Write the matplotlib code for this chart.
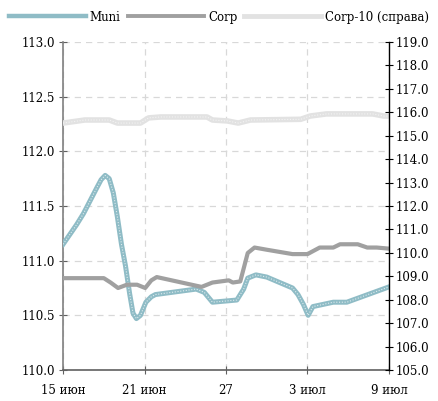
import matplotlib
matplotlib.use("Agg")
import matplotlib.pyplot as plt
from matplotlib.lines import Line2D
import numpy as np

plt.rcParams['font.family'] = ['DejaVu Serif']
plt.rcParams['font.size'] = 8

# x in days since 15 June
muni_x = [0, 0.5, 1, 1.5, 2, 2.5, 2.8, 3.1, 3.4, 3.7, 4.0, 4.3, 4.6, 4.9, 5.15, 5.4, 5.7, 6.1, 6.5, 6.8, 8, 9.8, 10.4, 11, 12.8, 13.3, 13.6, 14.2, 15, 16.9, 17.3, 17.7, 18.05, 18.4, 19.9, 20.9, 24]
muni_y = [111.15, 111.24, 111.33, 111.43, 111.55, 111.67, 111.74, 111.78, 111.75, 111.62, 111.40, 111.15, 110.95, 110.70, 110.52, 110.47, 110.50, 110.62, 110.67, 110.69, 110.71, 110.74, 110.71, 110.62, 110.64, 110.74, 110.84, 110.87, 110.85, 110.75, 110.69, 110.60, 110.50, 110.58, 110.62, 110.62, 110.76]

corp_x = [0, 3, 3.5, 4.05, 4.7, 5.45, 6.05, 6.5, 6.9, 10.2, 11, 12.2, 12.5, 13.05, 13.6, 14.1, 15, 16.9, 18, 18.9, 19.9, 20.4, 21.7, 22.4, 23.1, 24]
corp_y = [110.84, 110.84, 110.80, 110.75, 110.78, 110.78, 110.75, 110.82, 110.85, 110.76, 110.80, 110.82, 110.80, 110.81, 111.07, 111.12, 111.10, 111.06, 111.06, 111.12, 111.12, 111.15, 111.15, 111.12, 111.12, 111.11]

corp10_x = [0, 1.6, 3.4, 4, 5.7, 6.3, 7.2, 10.6, 11, 12.1, 12.9, 13.8, 17.5, 18.2, 19.4, 22.8, 23.6, 24]
corp10_y = [115.54, 115.67, 115.67, 115.54, 115.54, 115.76, 115.80, 115.80, 115.67, 115.63, 115.54, 115.67, 115.70, 115.84, 115.93, 115.93, 115.84, 115.84]

tick_pos = [0, 6, 12, 18, 24]
tick_labels = ["15 июн", "21 июн", "27", "3 июл", "9 июл"]
series_names = ["Muni", "Corp", "Corp-10 (справа)"]

fig = plt.figure(figsize=(4.38, 4.01), dpi=100)
ax = fig.add_axes([0.144, 0.0773, 0.744, 0.818])
ax2 = ax.twinx()

muni_c = '#8fbcc6'
corp_c = '#a0a0a0'
c10_c = '#e2e2e2'

ax.plot(muni_x, muni_y, color=muni_c, lw=3.6, solid_joinstyle='round', zorder=3)
ax.plot(muni_x, muni_y, color='white', lw=0.8, ls=(0, (1, 1.5)), alpha=0.7, zorder=4)
ax.plot(corp_x, corp_y, color=corp_c, lw=3.0, solid_joinstyle='round', zorder=5)
ax2.plot(corp10_x, corp10_y, color=c10_c, lw=4.0, solid_joinstyle='round', zorder=2)
ax2.plot(corp10_x, corp10_y, color='white', lw=0.8, ls=(0, (1, 1.5)), alpha=0.6, zorder=3)

ax.set_xlim(0, 24)
ax.set_ylim(110, 113)
ax2.set_ylim(105, 119)
ax.set_yticks(np.arange(110, 113.01, 0.5))
ax.set_yticklabels([f"{v:.1f}" for v in np.arange(110, 113.01, 0.5)])
ax2.set_yticks(np.arange(105, 119.01, 1))
ax2.set_yticklabels([f"{v:.1f}" for v in np.arange(105, 119.01, 1)])
ax.set_xticks(tick_pos)
ax.set_xticklabels(tick_labels)

ax.grid(True, color='#d8d8d8', ls=(0, (5, 4)), lw=0.9)
ax.set_axisbelow(True)
ax.spines['top'].set_visible(False)
ax2.spines['top'].set_visible(False)
ax2.spines['left'].set_visible(False)
ax2.spines['bottom'].set_visible(False)
ax.spines['right'].set_visible(False)
ax.spines['left'].set_color('#808080')
ax.spines['left'].set_linewidth(1.2)
ax.spines['bottom'].set_color('#606060')
ax.spines['bottom'].set_linewidth(1.2)
ax2.spines['right'].set_color('black')
ax2.spines['right'].set_linewidth(1.0)

ax.tick_params(axis='y', direction='inout', length=6, color='#606060', pad=3, labelsize=8.5)
ax.tick_params(axis='x', direction='inout', length=6, color='#606060', pad=7, labelsize=8.5)
ax2.tick_params(axis='y', direction='inout', length=6, color='black', pad=2, labelsize=8.5)

handles = [
    Line2D([], [], color=muni_c, lw=3.2),
    Line2D([], [], color=corp_c, lw=2.8),
    Line2D([], [], color=c10_c, lw=3.5),
]
fig.legend(handles, series_names, loc='upper center', bbox_to_anchor=(0.5, 1.0), ncol=3,
           frameon=False, fontsize=8.5, handlelength=6.5, handletextpad=0.3, columnspacing=0.6)

fig.savefig("out.png", dpi=100)
